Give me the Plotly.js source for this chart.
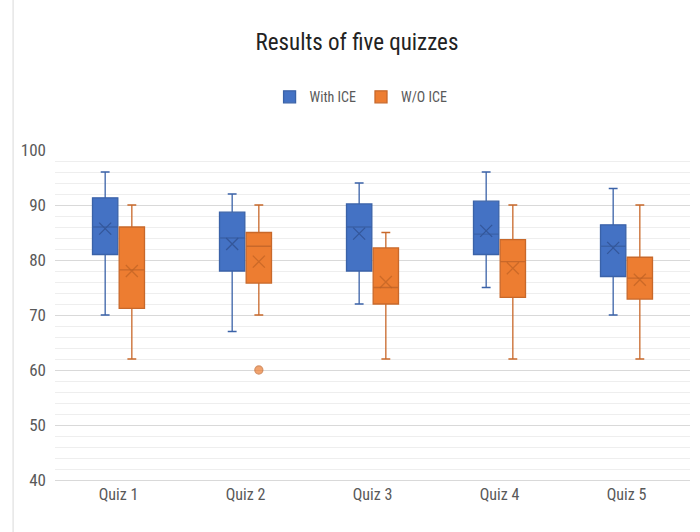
<!DOCTYPE html>
<html>
<head>
<meta charset="utf-8">
<script src="https://cdn.plot.ly/plotly-3.0.1.min.js"></script>
<style>html,body{margin:0;padding:0;background:#fff;}#chart{width:700px;height:532px;}</style>
</head>
<body>
<div id="chart"></div>
<script>
const quizzes = ["Quiz 1", "Quiz 2", "Quiz 3", "Quiz 4", "Quiz 5"];

const withMin    = [70, 67, 72, 75, 70];
const withQ1     = [81, 78, 78, 81, 77];
const withMedian = [86, 84, 86, 84.7, 82.5];
const withQ3     = [91.3, 88.7, 90.2, 90.7, 86.4];
const withMax    = [96, 92, 94, 96, 93];
const withMean   = [85.7, 82.9, 84.8, 85.3, 82.2];

const woMin    = [62, 70, 62, 62, 62];
const woQ1     = [71.2, 75.8, 72, 73.2, 72.9];
const woMedian = [78.2, 82.5, 75, 79.7, 76.7];
const woQ3     = [86, 85, 82.2, 83.7, 80.5];
const woMax    = [90, 90, 85, 90, 90];
const woMean   = [78, 79.7, 76, 78.5, 76.4];

const outlierQuiz = ["Quiz 2"];
const outlierVal  = [60];

const blue = "#4472C4", blueEdge = "#3A62A8", blueMark = "#34579A";
const orange = "#ED7D31", orangeEdge = "#C8682A", orangeMark = "#BF6224";
const narrow = "Liberation Sans Narrow, Roboto Condensed, Lato, sans-serif";

const traces = [
  {
    type: "box", name: "With ICE", x: quizzes,
    lowerfence: withMin, q1: withQ1, median: withMedian, q3: withQ3, upperfence: withMax,
    fillcolor: blue, line: {color: blueEdge, width: 1.3}, whiskerwidth: 0.35,
    offsetgroup: "a", boxpoints: false, hoverinfo: "skip"
  },
  {
    type: "box", name: "W/O ICE", x: quizzes,
    lowerfence: woMin, q1: woQ1, median: woMedian, q3: woQ3, upperfence: woMax,
    fillcolor: orange, line: {color: orangeEdge, width: 1.3}, whiskerwidth: 0.35,
    offsetgroup: "b", boxpoints: false, hoverinfo: "skip"
  },
  {
    type: "scatter", mode: "markers", x: quizzes, y: withMean, showlegend: false,
    offsetgroup: "a",
    marker: {symbol: "x-thin", size: 12, color: blueMark, line: {color: blueMark, width: 1.3}},
    hoverinfo: "skip"
  },
  {
    type: "scatter", mode: "markers",
    x: quizzes.concat(outlierQuiz), y: woMean.concat(outlierVal), showlegend: false,
    offsetgroup: "b",
    marker: {
      symbol: woMean.map(() => "x-thin").concat(outlierVal.map(() => "circle")),
      size: woMean.map(() => 12).concat(outlierVal.map(() => 8)),
      color: orange,
      line: {color: woMean.map(() => orangeMark).concat(outlierVal.map(() => orangeEdge)), width: 1.3}
    },
    hoverinfo: "skip"
  }
];

const layout = {
  width: 700, height: 532,
  margin: {l: 55, r: 10, t: 150, b: 52},
  paper_bgcolor: "#fff", plot_bgcolor: "#fff",
  font: {family: narrow, color: "#595959"},
  title: {
    text: "Results of five quizzes", x: 0.51, xref: "container", xanchor: "center",
    y: 0.921, yref: "container", yanchor: "middle",
    font: {size: 23, color: "#222", family: narrow}
  },
  boxmode: "group", boxgap: 0.58, boxgroupgap: 0.05,
  scattermode: "group", scattergap: 0.58,
  showlegend: true,
  legend: {
    orientation: "h", x: 0.482, xanchor: "center", y: 1.16, yanchor: "middle",
    font: {size: 14, color: "#595959", family: narrow},
    itemwidth: 30, tracegroupgap: 0
  },
  xaxis: {
    type: "category", showgrid: false, zeroline: false, showline: true,
    linecolor: "#d9d9d9", linewidth: 1, ticks: "",
    tickfont: {size: 16, color: "#595959", family: narrow}
  },
  yaxis: {
    range: [40, 100], dtick: 10, tick0: 40, showgrid: true, gridcolor: "#d9d9d9", gridwidth: 1,
    minor: {dtick: 2, showgrid: true, gridcolor: "#eeeeee", gridwidth: 1},
    zeroline: false, showline: false, ticks: "", ticklabelstandoff: 8,
    tickfont: {size: 17, color: "#595959", family: narrow}
  },
  shapes: [
    {type: "line", xref: "paper", yref: "paper", x0: -0.066, x1: -0.066, y0: -0.2, y1: 1.5,
     line: {color: "#d9d9d9", width: 1}}
  ]
};

Plotly.newPlot("chart", traces, layout, {displayModeBar: false, staticPlot: true});
</script>
</body>
</html>
